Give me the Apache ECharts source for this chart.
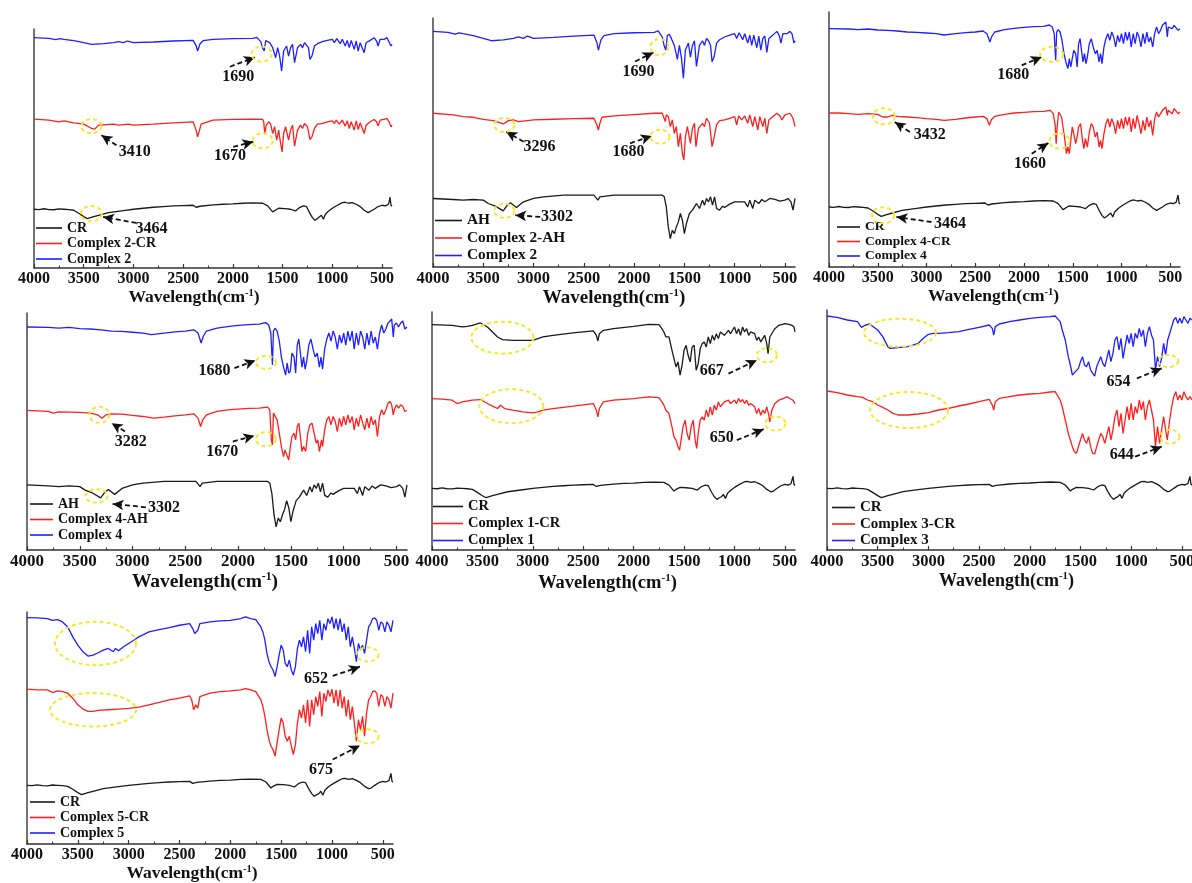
<!DOCTYPE html>
<html><head><meta charset="utf-8">
<script src="https://cdn.jsdelivr.net/npm/echarts@6/dist/echarts.min.js"></script>
<style>html,body{margin:0;padding:0;background:#fff}#c{width:1192px;height:883px}</style>
</head><body><div id="c"></div>
<script>
// ---------- tick labels ----------
const xTicks = [4000,3500,3000,2500,2000,1500,1000,500];
const xMinor = [3750,3250,2750,2250,1750,1250,750];

// ---------- spectra: [wavenumber cm-1, absorption depth (a.u.) below the 4000 cm-1 level] ----------
const CR = [[4000,0],[3950,1],[3900,-1.5],[3850,1],[3800,1.5],[3750,-1],[3700,0],[3650,1],[3600,3],[3550,12],[3500,22],[3464,28],[3400,22],[3350,18],[3250,10],[3100,4],[3000,0],[2900,-3],[2800,-6],[2700,-8],[2600,-10],[2500,-11],[2400,-12],[2370,-6],[2360,-2],[2330,-9],[2200,-13],[2100,-15],[2000,-16],[1900,-18],[1800,-19],[1700,-18],[1650,-10],[1600,8],[1580,3],[1540,-3],[1480,-2],[1420,0],[1370,5],[1330,-5],[1290,-10],[1260,-8],[1230,10],[1200,25],[1175,33],[1150,28],[1130,25],[1110,18],[1090,30],[1070,15],[1040,6],[1000,-3],[950,-12],[900,-20],[870,-21],[840,-18],[800,-20],[760,-15],[720,-8],[680,3],[640,10],[620,9],[580,0],[540,-8],[500,-12],[470,-10],[460,-15],[440,-14],[430,-20],[420,-36],[410,-12],[400,-9]];
const C2 = [[4000,0],[3850,2],[3780,6],[3740,3],[3700,5],[3600,9],[3500,15],[3420,20],[3300,18],[3200,15],[3150,12],[3100,15],[3060,10],[3000,15],[2800,13],[2600,10],[2400,8],[2370,24],[2355,40],[2330,18],[2300,9],[2200,5],[2000,3],[1800,2],[1760,-1],[1720,12],[1700,32],[1685,40],[1670,9],[1650,6],[1630,15],[1600,30],[1570,60],[1550,30],[1530,55],[1510,100],[1490,40],[1460,25],[1440,55],[1420,30],[1400,20],[1380,75],[1350,30],[1320,20],[1300,30],[1280,15],[1260,20],[1240,30],[1225,65],[1205,55],[1180,25],[1150,18],[1100,12],[1050,8],[1000,5],[980,15],[955,3],[920,18],[900,5],[870,25],[850,8],[830,30],[810,8],[780,35],[760,10],[740,40],[720,15],[700,10],[680,45],[660,15],[620,8],[580,0],[555,10],[540,25],[520,5],[480,5],[450,0],[430,5],[410,25],[400,20]];
const C2CR = [[4000,0],[3850,3],[3750,8],[3700,5],[3600,11],[3500,15],[3420,28],[3390,30],[3350,18],[3200,15],[3150,18],[3050,15],[3000,18],[2800,15],[2600,11],[2400,8],[2370,33],[2355,53],[2340,38],[2320,15],[2200,3],[2000,1],[1800,0],[1700,1],[1690,8],[1680,43],[1665,18],[1640,8],[1620,15],[1600,43],[1580,23],[1560,63],[1540,33],[1520,73],[1505,98],[1490,43],[1470,23],[1440,63],[1420,33],[1400,18],[1380,81],[1350,33],[1320,18],[1300,28],[1280,13],[1250,23],[1225,61],[1205,53],[1180,28],[1150,15],[1100,13],[1050,8],[1000,5],[980,13],[960,3],[930,15],[900,3],[870,21],[850,5],[830,28],[810,8],[780,33],[760,5],[740,31],[720,11],[700,15],[680,43],[660,18],[620,8],[580,1],[555,8],[540,21],[520,3],[480,1],[450,-2],[430,8],[410,23],[400,18]];
const C2AH = [[4000,0],[3800,5],[3700,10],[3600,12],[3500,18],[3400,22],[3300,32],[3250,22],[3200,20],[3150,25],[3000,20],[2800,18],[2600,16],[2400,15],[2370,35],[2355,50],[2340,30],[2320,12],[2200,8],[2000,4],[1800,0],[1720,0],[1690,25],[1680,5],[1660,10],[1640,40],[1620,20],[1600,60],[1580,40],[1560,100],[1540,60],[1520,120],[1505,140],[1490,70],[1470,40],[1440,90],[1420,45],[1400,30],[1385,100],[1360,45],[1320,30],[1300,40],[1280,15],[1250,30],[1225,100],[1210,80],[1180,35],[1150,22],[1100,20],[1050,15],[1000,10],[980,35],[960,8],[930,20],[900,8],[870,30],[850,5],[820,40],[800,10],[770,50],[750,10],[720,40],[700,15],[680,60],[660,20],[620,10],[580,0],[550,8],[530,20],[500,5],[450,0],[420,15],[400,40]];
const AH = [[4000,0],[3800,3],[3700,5],[3600,3],[3500,5],[3450,15],[3380,23],[3302,37],[3260,20],[3230,13],[3170,27],[3100,10],[3000,0],[2900,-5],[2700,-10],[2500,-10],[2400,-10],[2360,5],[2340,-5],[2200,-10],[2000,-10],[1800,-10],[1720,-10],[1700,-5],[1680,25],[1660,85],[1640,120],[1620,95],[1600,105],[1580,85],[1560,70],[1540,45],[1520,65],[1500,105],[1480,75],[1450,45],[1420,35],[1400,25],[1380,15],[1350,30],[1320,5],[1300,20],[1280,0],[1260,10],[1240,-5],[1220,20],[1200,-5],[1180,30],[1150,35],[1120,23],[1100,27],[1050,17],[1000,10],[950,10],[900,10],[870,25],[850,5],[820,30],[800,5],[760,15],[730,3],[700,10],[650,0],[600,3],[550,8],[500,5],[470,0],[440,10],[420,35],[400,0]];
const C4 = [[4000,0],[3800,1],[3700,3],[3600,1],[3500,4],[3400,5],[3300,7],[3200,10],[3100,11],[3000,13],[2900,15],[2820,19],[2700,15],[2600,12],[2500,10],[2420,7],[2380,15],[2350,40],[2330,23],[2300,10],[2200,3],[2100,-1],[2000,-4],[1900,-6],[1800,-7],[1740,-11],[1710,-5],[1690,15],[1675,95],[1665,10],[1650,3],[1630,10],[1610,35],[1590,75],[1570,100],[1550,120],[1535,90],[1520,115],[1505,110],[1490,65],[1470,75],[1455,115],[1440,45],[1425,30],[1410,65],[1395,100],[1380,75],[1365,105],[1350,85],[1330,45],[1310,30],[1290,55],[1270,75],[1250,65],[1230,100],[1215,75],[1200,105],[1180,55],[1160,30],[1140,15],[1120,35],[1100,10],[1080,25],[1060,55],[1040,20],[1020,40],[1000,15],[980,45],[960,10],[940,35],[920,10],[900,55],[880,15],[860,45],[840,10],[820,25],[800,55],[780,15],[760,45],[740,10],[720,40],[700,25],[680,55],[660,15],[640,-5],[620,15],[600,5],[580,-10],[560,-15],[545,-20],[530,25],[520,-5],[500,-10],[480,0],[460,-10],[440,-15],[420,5],[400,0]];
const C4CR = [[4000,0],[3900,0],[3800,2],[3700,4],[3600,2],[3500,4],[3450,12],[3432,17],[3400,12],[3350,7],[3300,10],[3200,12],[3100,14],[3000,17],[2900,19],[2820,22],[2700,19],[2600,15],[2500,12],[2420,10],[2380,17],[2355,37],[2335,20],[2300,10],[2200,4],[2100,0],[2000,-2],[1900,-4],[1800,-5],[1730,-8],[1700,2],[1680,37],[1670,92],[1660,42],[1645,-3],[1630,-5],[1615,12],[1600,42],[1580,82],[1565,122],[1550,102],[1535,122],[1520,82],[1505,42],[1490,62],[1470,92],[1455,72],[1440,42],[1420,32],[1400,82],[1385,107],[1370,77],[1350,102],[1330,57],[1310,32],[1290,42],[1270,72],[1250,57],[1230,102],[1215,82],[1200,107],[1180,62],[1160,32],[1140,17],[1120,42],[1100,17],[1080,32],[1060,62],[1040,22],[1020,47],[1000,17],[980,47],[960,12],[940,37],[920,12],[900,57],[880,17],[860,47],[840,7],[820,32],[800,62],[780,22],[760,52],[740,12],[720,42],[700,22],[680,67],[660,17],[640,-3],[620,12],[600,2],[580,-8],[560,-13],[545,-18],[530,7],[520,-8],[500,-8],[480,2],[460,-13],[440,-16],[420,2],[400,-3]];
const C4AH = [[4000,0],[3900,1],[3800,3],[3750,8],[3700,4],[3600,5],[3500,6],[3400,8],[3330,13],[3290,23],[3250,13],[3200,10],[3100,11],[3000,15],[2900,18],[2800,23],[2700,20],[2600,16],[2500,13],[2420,10],[2380,23],[2355,48],[2335,28],[2300,13],[2200,3],[2100,-2],[2000,-4],[1900,-6],[1800,-7],[1720,-10],[1700,-2],[1685,88],[1675,103],[1665,8],[1650,13],[1630,28],[1610,68],[1590,108],[1570,138],[1555,118],[1540,133],[1520,148],[1505,108],[1490,78],[1470,68],[1455,88],[1440,48],[1425,38],[1410,78],[1395,123],[1380,108],[1360,123],[1340,68],[1320,43],[1300,38],[1280,68],[1260,98],[1245,88],[1230,123],[1210,88],[1200,108],[1180,58],[1160,28],[1140,18],[1120,43],[1100,18],[1080,33],[1060,63],[1040,23],[1020,48],[1000,18],[980,43],[960,13],[940,38],[920,18],[900,58],[880,23],[860,48],[840,13],[820,38],[800,58],[780,23],[760,53],[740,18],[720,43],[700,28],[680,78],[660,18],[640,-2],[620,13],[600,-2],[580,-22],[560,-27],[545,-17],[530,13],[520,-2],[500,-17],[480,-7],[460,-17],[440,-12],[420,3],[400,0]];
const C1 = [[4000,0],[3800,2],[3700,7],[3650,5],[3600,2],[3520,-5],[3450,7],[3400,22],[3350,37],[3300,45],[3200,47],[3100,47],[3000,47],[2950,42],[2900,37],[2800,32],[2600,25],[2400,19],[2370,32],[2355,49],[2340,27],[2300,17],[2200,12],[2000,5],[1850,-1],[1750,0],[1720,12],[1700,22],[1680,37],[1650,37],[1620,77],[1600,102],[1580,127],[1560,112],[1540,152],[1520,122],[1500,77],[1480,62],[1460,92],[1440,112],[1420,67],[1400,62],[1380,137],[1360,117],[1340,72],[1320,57],[1300,52],[1280,67],[1260,37],[1240,57],[1220,32],[1200,47],[1180,27],[1160,42],[1140,22],[1100,32],[1060,17],[1040,27],[1000,7],[980,27],[960,12],[940,32],[920,7],[900,22],[880,12],[860,32],[840,22],[800,27],[780,47],[760,37],[740,52],[720,42],[700,32],[680,57],[667,87],[650,37],[620,22],[600,12],[560,2],[500,-3],[460,-1],[430,2],[410,7],[400,22]];
const C1CR = [[4000,0],[3900,2],[3800,5],[3750,15],[3700,10],[3600,5],[3520,3],[3450,15],[3400,23],[3350,30],[3320,20],[3280,30],[3200,35],[3100,40],[3000,43],[2950,40],[2900,35],[2800,30],[2600,23],[2400,15],[2370,35],[2355,55],[2340,30],[2300,10],[2200,5],[2000,0],[1850,-5],[1750,-3],[1720,10],[1700,20],[1680,35],[1650,45],[1620,85],[1600,115],[1580,125],[1560,145],[1545,155],[1530,125],[1510,85],[1490,65],[1470,105],[1450,125],[1430,85],[1410,65],[1390,125],[1375,150],[1360,105],[1340,65],[1320,55],[1300,65],[1280,35],[1260,55],[1240,25],[1220,50],[1200,20],[1180,35],[1160,10],[1140,25],[1100,10],[1060,5],[1040,15],[1000,5],[980,15],[960,0],[940,10],[920,3],[900,15],[880,5],[860,20],[840,15],[800,25],[780,45],[760,30],[740,50],[720,35],[700,45],[680,25],[660,50],[650,70],[630,35],[600,15],[560,5],[520,0],[480,-5],[450,0],[420,5],[400,15]];
const C3 = [[4000,0],[3900,4],[3800,12],[3700,17],[3660,34],[3620,27],[3580,24],[3500,42],[3450,62],[3400,92],[3380,97],[3300,95],[3200,92],[3100,82],[3050,67],[3000,55],[2950,52],[2900,52],[2800,50],[2700,47],[2600,40],[2500,34],[2400,27],[2370,37],[2355,57],[2340,32],[2300,24],[2200,17],[2100,12],[2000,7],[1900,4],[1800,2],[1750,0],[1700,17],[1680,42],[1650,72],[1620,122],[1600,147],[1580,177],[1550,167],[1520,157],[1500,137],[1480,122],[1460,147],[1440,152],[1420,137],[1400,162],[1380,172],[1360,180],[1340,152],[1320,137],[1300,122],[1280,142],[1260,152],[1240,127],[1220,102],[1200,137],[1180,112],[1160,72],[1140,62],[1120,102],[1100,67],[1080,127],[1060,92],[1040,57],[1020,82],[1000,52],[980,92],[960,52],[940,67],[920,37],[900,62],[880,42],[860,92],[840,52],[820,32],[800,57],[780,72],[760,162],[740,122],[720,152],[700,127],[680,82],[660,117],[640,72],[620,52],[600,32],[580,12],[560,4],[540,22],[520,7],[500,22],[480,2],[460,12],[440,22],[420,7],[400,12]];
const C3CR = [[4000,0],[3900,5],[3800,12],[3700,17],[3650,19],[3600,27],[3550,32],[3500,42],[3450,49],[3400,57],[3350,67],[3300,72],[3200,72],[3100,69],[3000,65],[2900,57],[2800,52],[2700,45],[2600,39],[2500,32],[2400,25],[2370,42],[2355,57],[2340,32],[2300,22],[2200,17],[2100,12],[2000,9],[1900,7],[1800,3],[1750,2],[1700,27],[1680,47],[1650,87],[1620,127],[1600,147],[1580,167],[1560,182],[1540,187],[1520,167],[1500,147],[1480,127],[1460,147],[1440,157],[1420,137],[1400,167],[1380,187],[1360,189],[1340,167],[1320,147],[1300,127],[1280,137],[1260,157],[1240,132],[1220,107],[1200,147],[1180,117],[1160,77],[1140,57],[1120,107],[1100,67],[1080,127],[1060,87],[1040,47],[1020,87],[1000,37],[980,87],[960,47],[940,67],[920,27],[900,57],[880,32],[860,87],[840,47],[820,27],[800,57],[780,87],[760,167],[740,107],[720,157],[700,117],[680,77],[660,117],[644,147],[620,87],[600,47],[580,17],[560,2],[540,27],[520,12],[500,27],[480,2],[460,17],[440,27],[420,17],[400,27]];
const C5 = [[4000,0],[3900,1],[3800,3],[3750,8],[3700,6],[3650,13],[3600,28],[3550,58],[3500,83],[3450,103],[3400,116],[3350,113],[3300,106],[3250,98],[3200,93],[3150,103],[3130,93],[3100,100],[3050,88],[3000,78],[2950,68],[2900,58],[2800,43],[2700,36],[2600,30],[2500,23],[2400,18],[2370,33],[2350,48],[2320,38],[2300,18],[2200,13],[2100,10],[2000,8],[1900,3],[1850,-2],[1800,3],[1750,6],[1700,28],[1680,43],[1660,68],[1640,108],[1620,133],[1600,148],[1580,158],[1560,178],[1540,148],[1520,113],[1500,83],[1480,98],[1460,138],[1440,148],[1420,128],[1400,158],[1380,173],[1360,148],[1340,93],[1320,68],[1300,88],[1280,58],[1260,103],[1240,38],[1220,108],[1200,28],[1180,68],[1160,18],[1140,48],[1120,8],[1100,68],[1080,18],[1060,38],[1040,3],[1020,18],[1000,-2],[980,33],[960,3],[940,38],[920,3],[900,43],[880,18],[860,68],[840,28],[820,88],[800,58],[780,93],[760,133],[740,78],[720,98],[700,83],[680,108],[660,68],[640,28],[620,18],[600,3],[580,1],[560,8],[540,38],[520,13],[500,18],[480,43],[460,13],[440,23],[420,43],[400,8]];
const C5CR = [[4000,0],[3900,2],[3800,2],[3750,10],[3700,5],[3650,7],[3600,12],[3550,27],[3500,47],[3450,60],[3400,67],[3350,67],[3300,64],[3200,62],[3100,60],[3000,58],[2900,54],[2800,47],[2700,40],[2600,32],[2500,27],[2400,20],[2380,32],[2360,62],[2340,47],[2320,57],[2300,22],[2200,12],[2100,7],[2000,5],[1900,2],[1850,-2],[1800,2],[1750,7],[1700,32],[1680,52],[1660,82],[1640,122],[1620,152],[1600,172],[1580,182],[1560,202],[1540,162],[1520,122],[1500,87],[1480,102],[1460,142],[1440,157],[1420,142],[1400,172],[1380,197],[1360,167],[1340,102],[1320,62],[1300,87],[1280,47],[1260,102],[1240,32],[1220,112],[1200,32],[1180,77],[1160,22],[1140,52],[1120,7],[1100,82],[1080,12],[1060,37],[1040,2],[1020,22],[1000,0],[980,42],[960,2],[940,52],[920,2],[900,57],[880,22],[860,82],[840,32],[820,92],[800,52],[780,102],[760,157],[740,92],[720,122],[700,82],[680,142],[660,72],[640,32],[620,22],[600,7],[580,5],[560,12],[540,52],[520,17],[500,22],[480,52],[460,22],[440,32],[420,57],[400,12]];

// ---------- which spectra each panel stacks (bottom, middle, top) ----------
const spectra = {'CR':CR,'AH':AH,'Complex 2':C2,'Complex 2-CR':C2CR,'Complex 2-AH':C2AH,'Complex 4':C4,'Complex 4-CR':C4CR,'Complex 4-AH':C4AH,'Complex 1':C1,'Complex 1-CR':C1CR,'Complex 3':C3,'Complex 3-CR':C3CR,'Complex 5':C5,'Complex 5-CR':C5CR};
const panelSeries = [
  ['CR','Complex 2-CR','Complex 2'],
  ['AH','Complex 2-AH','Complex 2'],
  ['CR','Complex 4-CR','Complex 4'],
  ['AH','Complex 4-AH','Complex 4'],
  ['CR','Complex 1-CR','Complex 1'],
  ['CR','Complex 3-CR','Complex 3'],
  ['CR','Complex 5-CR','Complex 5']
];
// stacking offsets and vertical scale factors (a.u.)
const stackOffsets = [[176,446,690],[205,460,705],[180,462,715],[195,418,668],[185,455,677],[185,477,702],[177,467,683]];
const stackScales  = [[1,1,1],[1,1,1.4],[1,1,1],[1.05,1,1.2],[1,1,1],[1,1,1],[1,1,1]];
const yMax = [716,745,765,710,715,720,700];

// ---------- annotations (data coordinates) ----------
const ellipseCenters = [[0,1711,641],[0,3423,425],[0,1701,381],[0,3423,163],
  [1,1748,658],[1,3291,425],[1,1742,390],[1,3291,168],
  [2,1716,638],[2,3438,452],[2,1637,378],[2,3445,155],
  [3,1736,562],[3,3314,405],[3,1736,332],[3,3340,162],
  [4,3302,638],[4,678,585],[4,3213,432],[4,595,380],
  [5,3281,652],[5,634,567],[5,3190,420],[5,618,340],
  [6,3327,605],[6,650,572],[6,3350,405],[6,650,325]];
const noteLabels = [[0,'1690',1946,573],[0,'3410',2987,348],[0,'1670',2030,335],[0,'3464',2819,118],
  [1,'1690',1957,585],[1,'3296',2940,360],[1,'1680',2056,345],[1,'3302',2768,150],
  [2,'1680',2110,575],[2,'3432',2966,395],[2,'1660',1938,310],[2,'3464',2760,130],
  [3,'1680',2223,538],[3,'3282',3016,325],[3,'1670',2151,295],[3,'3302',2701,125],
  [4,'667',1226,537],[4,'650',1126,337],
  [5,'654',1124,505],[5,'644',1092,285],
  [6,'652',1157,497],[6,'675',1108,225]];
const arrowLines = [[0,2030,603,1779,631],[0,3171,368,3322,398],[0,1997,363,1795,378],[0,2970,135,3305,153],
  [1,1990,615,1808,642],[1,3099,375,3272,405],[1,2040,370,1825,392],[1,2934,150,3182,155],
  [2,2024,605,1818,630],[2,3171,405,3325,435],[2,1921,340,1750,372],[2,2949,135,3308,150],
  [3,2035,545,1836,568],[3,3072,355,3198,380],[3,2050,325,1846,342],[3,2874,128,3189,138],
  [4,1060,530,778,570],[4,977,330,711,363],
  [5,944,515,699,545],[5,961,280,699,310],
  [6,993,507,725,535],[6,993,255,725,297]];

// ---------- layout & style (pixels) ----------
const gridBoxes = [[34,29,358,239],[433,18,362,249],[829,12,351,255],[27,313,380,237],[432,312,363,238],[827,310,365,240],[27,612,366,232]];
const ellipseRadii = [[10,7.5],[10,7],[10,7.5],[10.5,7.5],
  [9,8],[10,7],[9.5,7],[10,7],
  [11.5,7.5],[11,8],[10,7.5],[11,8],
  [10,6.5],[10,8],[10,7],[11,6.7],
  [31,16],[10,7],[32,17],[10,7],
  [36,14],[10,6],[39,18],[9.5,7],
  [40.5,21.7],[11,7],[43,16.7],[11,7]];
const legendBoxes = [ // left, top, itemWidth, gap, fontSize
  [36,221,26,1.5,14],[435,213,27,2.5,15.3],[837,220,23,0.5,13.5],[30,497,23,1.5,14],[433,499,30,2,14.5],[832,500,23,1.5,15],[30,795,25,1.5,14]];
const titleStyle = [ // nameGap, shiftLeft, fontSize, tickFont
  [20,19,17.5,16],[15,0,19,16.5],[18,11,17.5,16],[19,12,19.5,17],[23,6,18.5,16.5],[20,3,18,16.5],[19,18,17.5,16]];
const FONT = '"Liberation Serif","Times New Roman",serif';
const lineColors = ['#1a1a1a','#ff1f1f','#1f1fff'];

const chart = echarts.init(document.getElementById('c'), null, {renderer:'canvas'});
const grid = [], xAxis = [], yAxis = [], series = [], legend = [];

gridBoxes.forEach((g, p) => {
  grid.push({left:g[0], top:g[1], width:g[2], height:g[3], containLabel:false, outerBoundsMode:'none'});
  const ts = titleStyle[p];
  xAxis.push({
    type:'value', gridIndex:p, position:'bottom', inverse:true, min:400, max:4000,
    axisLine:{show:true, onZero:false, lineStyle:{color:'#333', width:1.5}},
    axisTick:{show:true, inside:true, length:4, customValues:xTicks, lineStyle:{color:'#333', width:1.2}},
    axisLabel:{show:true, customValues:xTicks, formatter:(v) => String(v), margin:3, color:'#111', fontFamily:FONT, fontWeight:'bold', fontSize:ts[3]},
    splitLine:{show:false},
    name:'{a|Wavelength(cm}{s|-1}{a|)}', nameLocation:'middle', nameGap:ts[0],
    nameTextStyle:{padding:[0, ts[1]*2, 0, 0], rich:{
      a:{fontFamily:FONT, fontWeight:'bold', fontSize:ts[2], color:'#111', lineHeight:ts[2]+2},
      s:{fontFamily:FONT, fontWeight:'bold', fontSize:ts[2]*0.6, color:'#111', verticalAlign:'top', lineHeight:ts[2]+2, padding:[0,0,ts[2]*0.45,0]}}}
  });
  xAxis.push({
    type:'value', gridIndex:p, position:'bottom', inverse:true, min:400, max:4000,
    axisLine:{show:false, onZero:false},
    axisTick:{show:true, inside:true, length:2.5, customValues:xMinor, lineStyle:{color:'#333', width:1}},
    axisLabel:{show:false}, splitLine:{show:false}
  });
  yAxis.push({
    type:'value', gridIndex:p, min:0, max:yMax[p],
    axisLine:{show:true, onZero:false, lineStyle:{color:'#444', width:1.5}},
    axisTick:{show:false}, axisLabel:{show:false}, splitLine:{show:false}
  });

  panelSeries[p].forEach((name, k) => {
    const off = stackOffsets[p][k], sc = stackScales[p][k];
    const col = (p === 4 && k === 2) ? '#1a1a1a' : lineColors[k];
    const s = {
      type:'line', name:name, xAxisIndex:2*p, yAxisIndex:p,
      data: spectra[name].map(d => [d[0], off - sc*d[1]]),
      symbol:'none', smooth:false, animation:false, silent:true,
      lineStyle:{color:col, width:1.3}, itemStyle:{color:col}, z:2
    };
    if (k === 2) {
      s.markLine = {
        silent:true, animation:false, symbol:['none','arrow'], symbolSize:[8,11],
        label:{show:false},
        lineStyle:{color:'#111', width:1.8, type:[5,3]},
        data: arrowLines.filter(a => a[0] === p).map(a => [{coord:[a[1],a[2]]},{coord:[a[3],a[4]]}])
      };
    }
    series.push(s);
  });

  // ellipses
  const ells = [];
  ellipseCenters.forEach((e, i) => { if (e[0] === p) ells.push([e[1], e[2], i]); });
  series.push({
    type:'custom', name:'ell'+p, xAxisIndex:2*p, yAxisIndex:p, silent:true, animation:false, z:5,
    data: ells,
    renderItem:(params, api) => {
      const c = api.coord([api.value(0), api.value(1)]);
      const r = ellipseRadii[api.value(2)];
      const pts = [];
      for (let t = 0; t < 64; t++) {
        const a = t/64*Math.PI*2;
        pts.push([c[0] + r[0]*Math.cos(a), c[1] + r[1]*Math.sin(a)]);
      }
      return {type:'polygon', shape:{points:pts}, style:{fill:null, stroke:'#f7e82a', lineWidth:2, lineDash:[4,3]}};
    }
  });
  // note labels
  const nts = [];
  noteLabels.forEach((n, i) => { if (n[0] === p) nts.push([n[2], n[3], i]); });
  series.push({
    type:'custom', name:'note'+p, xAxisIndex:2*p, yAxisIndex:p, silent:true, animation:false, z:6,
    data: nts,
    renderItem:(params, api) => {
      const c = api.coord([api.value(0), api.value(1)]);
      return {type:'text', x:c[0], y:c[1], style:{text:noteLabels[api.value(2)][1], fill:'#111',
        fontFamily:FONT, fontWeight:'bold', fontSize:16, align:'center', verticalAlign:'middle'}};
    }
  });

  const lb = legendBoxes[p];
  legend.push({
    orient:'vertical', left:lb[0], top:lb[1], padding:0, itemWidth:lb[2], itemHeight:1.6, itemGap:lb[3],
    icon:'rect', selectedMode:false,
    textStyle:{fontFamily:FONT, fontWeight:'bold', fontSize:lb[4], color:'#111', lineHeight:14},
    data: panelSeries[p].map((n, k) => (p === 4 && k === 2)
      ? {name:n, itemStyle:{color:'#1f1fff'}} : {name:n})
  });
});

chart.setOption({animation:false, backgroundColor:'#fff', grid, xAxis, yAxis, series, legend});
</script></body></html>
